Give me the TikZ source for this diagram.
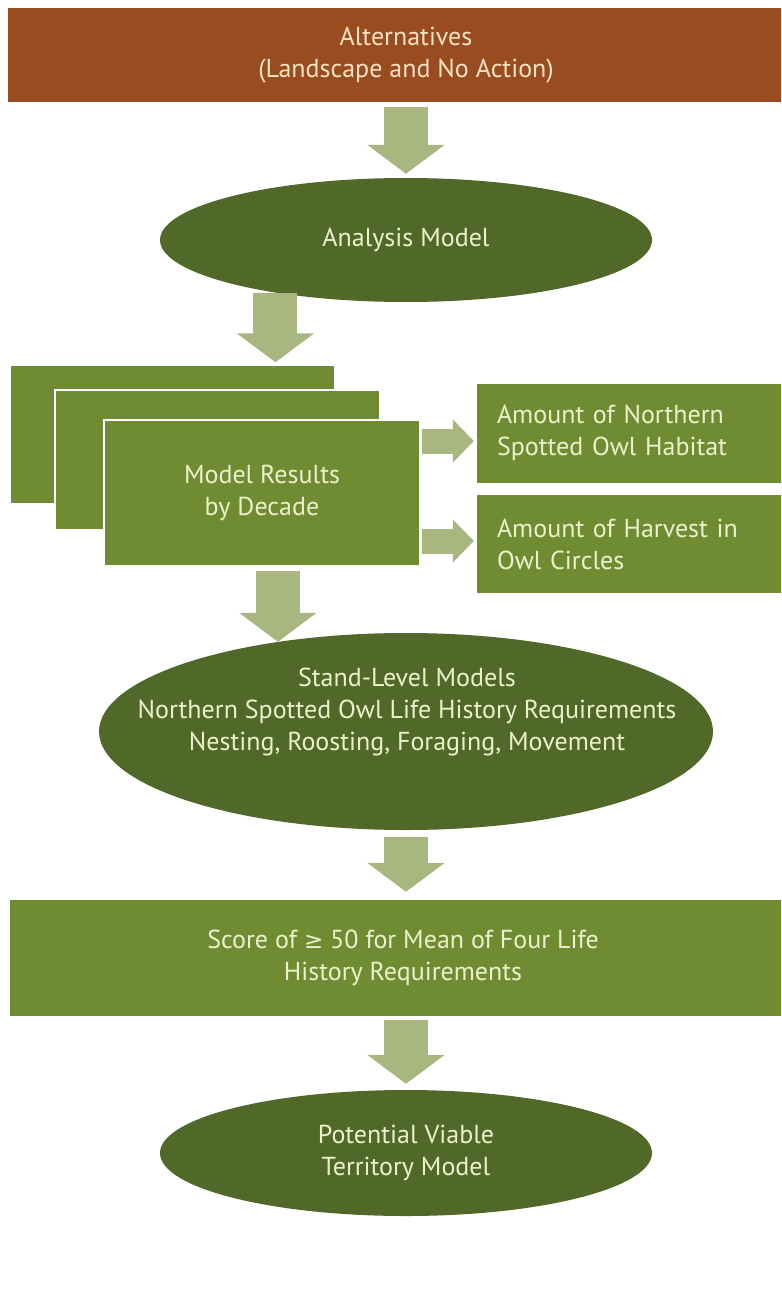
\documentclass[tikz,border=0pt]{standalone}
\usepackage{fontspec}
\setmainfont{PT Sans}
\newfontfamily\symfont{DejaVu Sans}
\usetikzlibrary{shapes,calc,positioning,arrows.meta}
\definecolor{altbrown}{RGB}{154,76,33}
\definecolor{peach}{RGB}{250,226,196}
\definecolor{boxgreen}{RGB}{112,140,50}
\definecolor{ovalgreen}{RGB}{80,104,40}
\definecolor{sage}{RGB}{170,182,128}
\definecolor{cream}{RGB}{236,240,204}

\begin{document}
\begin{tikzpicture}[x=1pt,y=-1pt]
\tikzstyle{txt}=[font=\fontsize{26}{32}\selectfont,text=cream,align=center,inner sep=0pt]
\tikzstyle{gb}=[txt,rectangle,fill=boxgreen]
\tikzstyle{ov}=[txt,ellipse,fill=ovalgreen]
\tikzstyle{dn}=[draw=sage,line width=44pt,-{Triangle[width=76pt,length=29pt]}]
\tikzstyle{rt}=[draw=sage,line width=25pt,-{Triangle[width=42pt,length=21pt]}]
\clip (0,0) rectangle (781,1297);
\fill[white] (0,0) rectangle (781,1297);
% boxes and ovals
\node[txt,rectangle,fill=altbrown,text=peach,minimum width=796,minimum height=94] (alt) at (406,55) {Alternatives\\(Landscape and No Action)};
\node[ov,minimum width=492,minimum height=124] (ana) at (406,240) {Analysis Model};
\node[gb,draw=white,line width=1.5pt,minimum width=325,minimum height=139] (rA) at (172.5,434.5) {};
\node[gb,draw=white,line width=1.5pt,minimum width=325,minimum height=140] (rB) at (217.5,460) {};
\node[gb,draw=white,line width=1.5pt,minimum width=316,minimum height=146] (rC) at (262,493) {Model Results\\by Decade};
\node[gb,align=left,text width=283,inner xsep=20pt,minimum height=99] (hab) at (638.5,433) {Amount of Northern\\Spotted Owl Habitat};
\node[gb,align=left,text width=283,inner xsep=20pt,minimum height=98] (har) at (638.5,544) {Amount of Harvest in\\Owl Circles};
\node[ov,minimum width=614,minimum height=197] (stand) at (406,731.5) {};
\node[txt] (standtxt) at (407,712) {Stand-Level Models\\Northern Spotted Owl Life History Requirements\\Nesting, Roosting, Foraging, Movement};
\node[gb,minimum width=786,minimum height=116] (score) at (403,958) {Score of {\symfont\fontsize{23}{32}\selectfont ≥} 50 for Mean of Four Life\\History Requirements};
\node[ov,minimum width=492,minimum height=126] (pvt) at (406,1153) {Potential Viable\\Territory Model};
% arrows
\draw[dn,shorten <=5pt,shorten >=4pt] (alt.south) -- (ana.north);
\draw[dn,shorten >=2pt] (ana.202) -- (ana.202 |- rA.north);
\draw[dn,shorten <=4pt] (rC.south -| stand.145) -- (stand.145);
\draw[rt,shorten <=1pt,shorten >=3pt] ([yshift=-8]rC.east |- hab.west) -- ([yshift=-8]hab.west);
\draw[rt,shorten <=1pt,shorten >=3pt] ([yshift=3]rC.east |- har.west) -- ([yshift=3]har.west);
\draw[dn,shorten <=7pt,shorten >=8pt] (stand.south) -- (stand.south |- score.north);
\draw[dn,shorten <=4pt,shorten >=6pt] (score.south -| pvt.north) -- (pvt.north);
\end{tikzpicture}
\end{document}
